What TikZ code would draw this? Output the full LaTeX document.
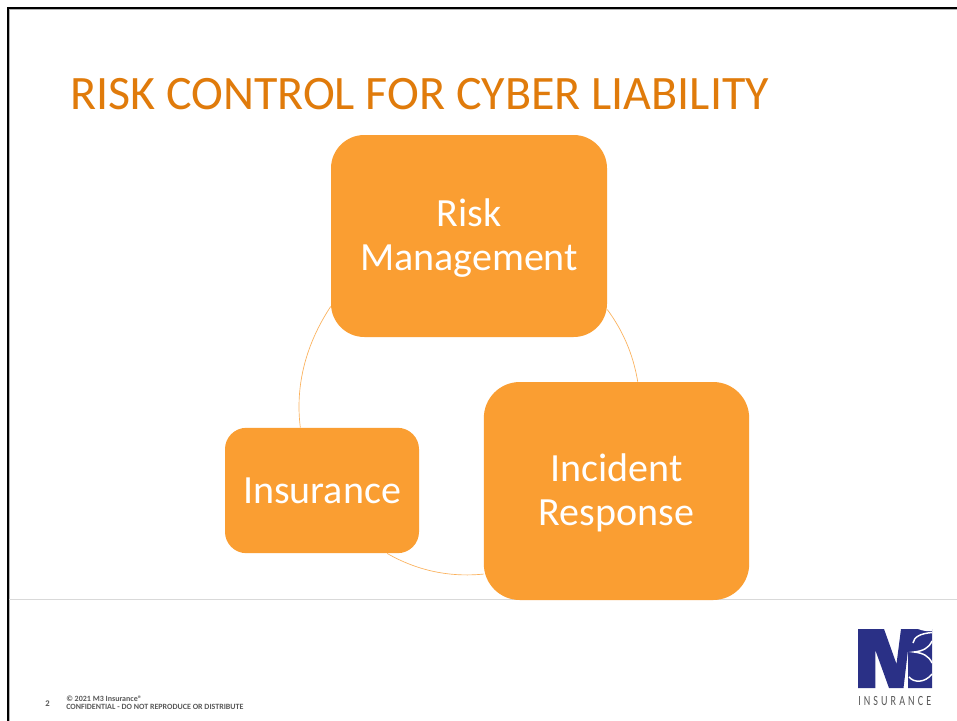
\documentclass[tikz,border=0pt]{standalone}
\usepackage{fontspec}
\setmainfont{Carlito}
\newfontfamily\logofont[LetterSpace=22,FakeStretch=0.72]{Carlito}
\definecolor{boxorange}{HTML}{FA9E32}
\definecolor{titleorange}{HTML}{E07B0B}
\definecolor{logoblue}{HTML}{2A3086}
\definecolor{footgrey}{HTML}{595959}
\newcommand{\firstline}{\rule{0pt}{24pt}}
\tikzset{
	cyclebox/.style={fill=boxorange,text=white,align=center,inner sep=0.75pt,font=\fontsize{30}{33}\selectfont},
	cyclearc/.style={draw=boxorange!80,line width=0.5pt},
	footnote/.style={anchor=west,inner sep=0.75pt,text=footgrey,align=left,font=\fontsize{6}{6.4}\selectfont\bfseries},
	logostroke/.style={draw=white,line width=1.1pt}
}
\begin{document}
\begin{tikzpicture}[x=0.75pt,y=0.75pt,yscale=-1,xscale=1]
	\useasboundingbox (0,0) rectangle (957,721);
	\fill[white] (0,0) rectangle (957,721);
	% slide frame
	\draw[black,line width=1.7pt] (8,721) -- (8,8) -- (957,8);
	\draw[gray!60,line width=0.4pt] (9.5,721) -- (9.5,9.5) -- (957,9.5);
	\draw[gray!30,line width=1pt] (9,599.5) -- (957,599.5);
	% title
	\node (title) [anchor=base west,inner sep=0pt,text=titleorange,font=\fontsize{36}{40}\selectfont] at (70,109) {RISK CONTROL FOR CYBER LIABILITY};
	% cycle
	\node (risk) [cyclebox,minimum width=207pt,minimum height=151.5pt,rounded corners=25pt] at (469,236) {\firstline Risk\\Management};
	\node (incident) [cyclebox,minimum width=199pt,minimum height=163.5pt,rounded corners=27pt] at (616.5,491) {\firstline Incident\\Response};
	\node (insurance) [cyclebox,minimum width=145.5pt,minimum height=94pt,rounded corners=16pt] at (322,490.5) {Insurance};
	\draw[cyclearc] (risk.207.7) .. controls (306.4,343.2) and (294.9,384.7) .. (insurance.109.4);
	\draw[cyclearc] (insurance.316.6) .. controls (416.8,570.5) and (449.4,577.5) .. (incident.212.4);
	\draw[cyclearc] (risk.332.3) .. controls (622.5,330.1) and (633.1,353.7) .. (incident.79.3);
	% footer
	\node (pagenum) [footnote,font=\fontsize{6.5}{7}\selectfont\bfseries] at (44,703.5) {2};
	\node (legal) [footnote] at (65,702.5) {© 2021 M3 Insurance®\\CONFIDENTIAL - DO NOT REPRODUCE OR DISTRIBUTE};
	% logo
	\fill[logoblue] (858,629) -- (884,629) -- (896.5,664) -- (901,629) -- (932,629) -- (932,688) -- (908,688) -- (908,650) -- (903.5,688) -- (889,688) -- (875.3,650) -- (875.3,688) -- (858,688) -- cycle;
	\fill[white] (918,629) .. controls (923,631) and (928,631.5) .. (932,631) -- (932,629) -- cycle;
	\draw[logostroke] (913,643) .. controls (914,637) and (920,633.5) .. (932,632.5);
	\draw[logostroke] (932,641) .. controls (929,648) and (923,651) .. (914,652) .. controls (923,653) and (929,656) .. (932,663);
	\draw[logostroke] (909,677) .. controls (914,683) and (925,683) .. (932,674);
	\node (logotext) [anchor=west,inner sep=0pt,text=footgrey,font=\logofont\fontsize{10.5}{12}\selectfont] at (858,701) {INSURANCE};
\end{tikzpicture}
\end{document}
